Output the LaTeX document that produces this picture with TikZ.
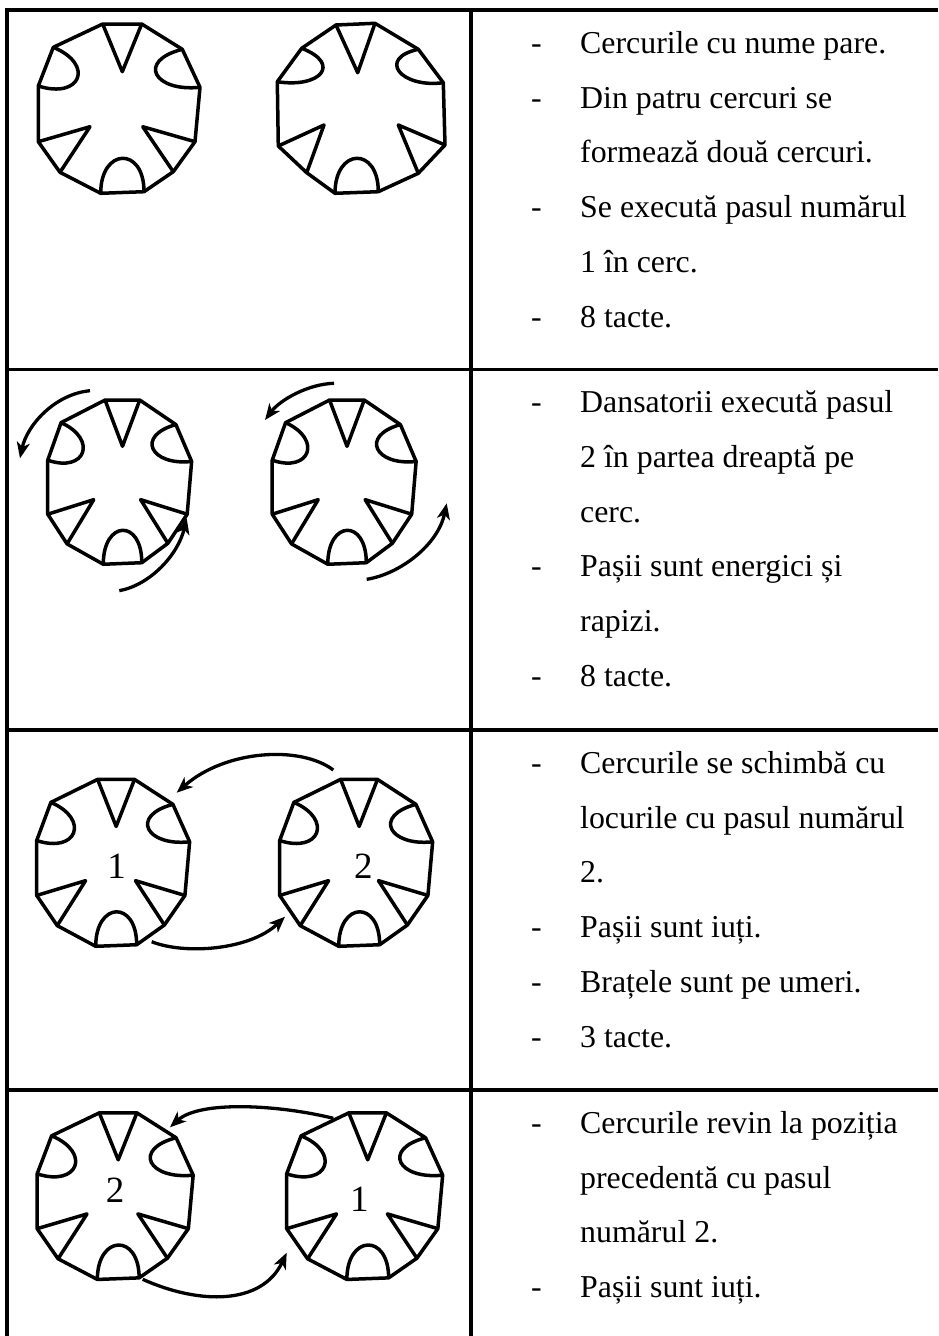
\documentclass[tikz,border=0pt]{standalone}
\usepackage{fontspec}
\setmainfont{Liberation Serif}
\usetikzlibrary{arrows.meta}
\newcommand\tline[3]{\node[txt] (#1) at (580,#2) {#3};}
\newcommand\tdash[2]{\node[txt] (#1) at (531,#2) {-};}
\tikzset{
  rule/.style={line width=3.2pt},
  shapeline/.style={line width=3.5pt, line join=round},
  mv/.style={line width=3.3pt, -{Stealth[length=16pt,width=13pt,inset=4.5pt]}},
  txt/.style={anchor=base west, inner sep=0pt, font=\fontsize{31.85}{38}\selectfont},
  num/.style={anchor=base, inner sep=0pt, font=\fontsize{37}{42}\selectfont},
  dancer/.pic={
    \coordinate (-v1) at (-16.8,-84.5);
    \coordinate (-v2) at (22.2,-84.5);
    \coordinate (-v3) at (62.8,-59.2);
    \coordinate (-v4) at (80.5,-21.2);
    \coordinate (-v5) at (75.5,33.2);
    \coordinate (-v6) at (53.8,63.2);
    \coordinate (-v7) at (24.5,83.2);
    \coordinate (-v8) at (-18.8,84.8);
    \coordinate (-v9) at (-59.5,63.8);
    \coordinate (-v10) at (-81.2,33.2);
    \coordinate (-v11) at (-81.2,-22.5);
    \coordinate (-v12) at (-66.2,-61.2);
    \draw[shapeline] (-v1) -- (-v2) -- (-v3) -- (-v4) -- (-v5) -- (-v6) -- (-v7)
      -- (-v8) -- (-v9) -- (-v10) -- (-v11) -- (-v12) -- cycle;
    \draw[shapeline] (-v1) -- (2.8,-36.8) -- (-v2);
    \draw[shapeline] (-v5) -- (23.2,18.2) -- (-v6);
    \draw[shapeline] (-v9) -- (-29.5,18.2) -- (-v10);
    \draw[shapeline] (-v3) .. controls (17,-47.5) and (34.5,-16.5) .. (-v4);
    \draw[shapeline] (-v11) .. controls (-38.5,-9) and (-24.8,-44.1) .. (-v12);
    \draw[shapeline] (-v7) .. controls (24.5,37.6) and (-18.8,39.2) .. (-v8);
  },
  dancerb/.pic={
    \coordinate (-v1) at (-25,-83.3);
    \coordinate (-v2) at (14,-85);
    \coordinate (-v3) at (57.3,-59);
    \coordinate (-v4) at (82.3,-25.6);
    \coordinate (-v5) at (84,36.7);
    \coordinate (-v6) at (57.3,65);
    \coordinate (-v7) at (17.3,83.4);
    \coordinate (-v8) at (-26,85);
    \coordinate (-v9) at (-54.3,64.4);
    \coordinate (-v10) at (-82.7,37.7);
    \coordinate (-v11) at (-83.7,-26.6);
    \coordinate (-v12) at (-59.3,-60);
    \draw[shapeline] (-v1) -- (-v2) -- (-v3) -- (-v4) -- (-v5) -- (-v6) -- (-v7)
      -- (-v8) -- (-v9) -- (-v10) -- (-v11) -- (-v12) -- cycle;
    \draw[shapeline] (-v1) -- (-3.3,-35.6) -- (-v2);
    \draw[shapeline] (-v5) -- (37.3,16.7) -- (-v6);
    \draw[shapeline] (-v9) -- (-37,16.7) -- (-v10);
    \draw[shapeline] (-v3) .. controls (15.9,-50) and (39.5,-20) .. (-v4);
    \draw[shapeline] (-v11) .. controls (-41,-19.9) and (-18.8,-44.3) .. (-v12);
    \draw[shapeline] (-v7) .. controls (17.3,37.8) and (-26,39.4) .. (-v8);
  }
}
\begin{document}
\begin{tikzpicture}[x=1pt,y=-1pt]
\useasboundingbox (0,0) rectangle (938,1336);
% table rules
\draw[rule] (7,10) -- (938,10);
\draw[rule] (7,8.4) -- (7,1336);
\draw[rule] (471,10) -- (471,1336);
\draw[rule] (7,369.5) -- (938,369.5);
\draw[rule] (7,730) -- (938,730);
\draw[rule] (7,1090) -- (938,1090);

% row 1
\pic (s11) at (119.5,108.5) {dancer};
\pic (s12) at (361,108.3) {dancerb};
% row 2
\pic[xscale=0.89,yscale=0.97] (s21) at (120,482) {dancer};
\pic[xscale=0.89,yscale=0.97] (s22) at (344.5,482) {dancer};
% row 3
\pic[xscale=0.946,yscale=0.986] (s31) at (113.5,862.7) {dancer};
\pic[xscale=0.946,yscale=0.986] (s32) at (356.5,862.7) {dancer};
\node[num] (n31) at (116.7,878) {1};
\node[num] (n32) at (363.3,878) {2};
% row 4
\pic[xscale=0.965,yscale=0.984] (s41) at (115.5,1196) {dancer};
\pic[xscale=0.965,yscale=0.984] (s42) at (365,1196) {dancer};
\node[num] (n41) at (115,1202.5) {2};
\node[num] (n42) at (359.3,1211.5) {1};

% arrow end points
\coordinate (a1s) at (90,390.7);   \coordinate (a1e) at (20,458.3);
\coordinate (a2s) at (119.3,590.7);\coordinate (a2e) at (186.7,518.3);
\coordinate (a3s) at (334,383.3);  \coordinate (a3e) at (265,420);
\coordinate (a4s) at (366.7,579.3);\coordinate (a4e) at (446.7,503.3);
\coordinate (b1s) at (333.3,770);  \coordinate (b1e) at (176.7,792.7);
\coordinate (b2s) at (151.7,941.7);\coordinate (b2e) at (285,916.7);
\coordinate (c1s) at (333.3,1118.3);\coordinate (c1e) at (170,1127.3);
\coordinate (c2s) at (142.7,1279.3);\coordinate (c2e) at (286.7,1252.7);

\draw[mv] (a1s) .. controls (55,394) and (27,425) .. (a1e);
\draw[mv] (a2s) .. controls (150,585) and (178,555) .. (a2e);
\draw[mv] (a3s) .. controls (308,384) and (280,400) .. (a3e);
\draw[mv] (a4s) .. controls (400,574) and (438,545) .. (a4e);
\draw[mv] (b1s) .. controls (300,745) and (225,750) .. (b1e);
\draw[mv] (b2s) .. controls (185,955) and (250,950) .. (b2e);
\draw[mv] (c1s) .. controls (280,1105) and (200,1100) .. (c1e);
\draw[mv] (c2s) .. controls (200,1305) and (262,1305) .. (c2e);

% row 1 text
\tdash{d1a}{53.3}   \tline{t1a}{53.3}{Cercurile cu nume pare.}
\tdash{d1b}{108.1}  \tline{t1b}{108.1}{Din patru cercuri se}
                    \tline{t1c}{162.9}{formează două cercuri.}
\tdash{d1d}{217.7}  \tline{t1d}{217.7}{Se execută pasul numărul}
                    \tline{t1e}{272.5}{1 în cerc.}
\tdash{d1f}{327.3}  \tline{t1f}{327.3}{8 tacte.}
% row 2 text
\tdash{d2a}{412.5}  \tline{t2a}{412.5}{Dansatorii execută pasul}
                    \tline{t2b}{467.3}{2 în partea dreaptă pe}
                    \tline{t2c}{522.1}{cerc.}
\tdash{d2d}{576.9}  \tline{t2d}{576.9}{Pașii sunt energici și}
                    \tline{t2e}{631.7}{rapizi.}
\tdash{d2f}{686.5}  \tline{t2f}{686.5}{8 tacte.}
% row 3 text
\tdash{d3a}{773.3}  \tline{t3a}{773.3}{Cercurile se schimbă cu}
                    \tline{t3b}{828.1}{locurile cu pasul numărul}
                    \tline{t3c}{882.9}{2.}
\tdash{d3d}{937.7}  \tline{t3d}{937.7}{Pașii sunt iuți.}
\tdash{d3e}{992.5}  \tline{t3e}{992.5}{Brațele sunt pe umeri.}
\tdash{d3f}{1047.3} \tline{t3f}{1047.3}{3 tacte.}
% row 4 text
\tdash{d4a}{1133.3} \tline{t4a}{1133.3}{Cercurile revin la poziția}
                    \tline{t4b}{1188.1}{precedentă cu pasul}
                    \tline{t4c}{1242.9}{numărul 2.}
\tdash{d4d}{1297.7} \tline{t4d}{1297.7}{Pașii sunt iuți.}
\end{tikzpicture}
\end{document}
